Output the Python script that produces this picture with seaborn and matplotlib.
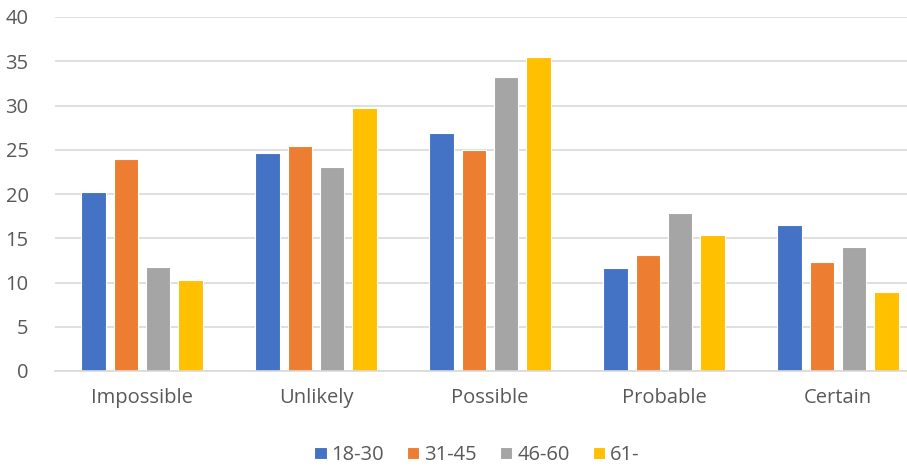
import pandas as pd
import matplotlib.pyplot as plt
import seaborn as sns

# data
categories = ["Impossible", "Unlikely", "Possible", "Probable", "Certain"]
age_groups = ["18-30", "31-45", "46-60", "61-"]
vals_18_30 = [20.2, 24.6, 26.9, 11.6, 16.5]
vals_31_45 = [23.9, 25.4, 25.0, 13.1, 12.3]
vals_46_60 = [11.8, 23.0, 33.2, 17.8, 14.0]
vals_61 = [10.3, 29.7, 35.5, 15.4, 8.9]

df = pd.DataFrame({
    "Category": categories * 4,
    "Age": [g for g in age_groups for _ in categories],
    "Value": vals_18_30 + vals_31_45 + vals_46_60 + vals_61,
})

sns.set_theme(style="white")
plt.rcParams['font.family'] = ['Open Sans', 'DejaVu Sans']

palette = ["#4472C4", "#ED7D31", "#A5A5A5", "#FFC000"]
text_color = "#595959"

fig = plt.figure(figsize=(9.07, 4.70), dpi=100)
# plot area runs off the right edge in the reference
ax = fig.add_axes([55 / 907, 1 - 371 / 470, 870 / 907, 354 / 470])

sns.barplot(data=df, x="Category", y="Value", hue="Age", order=categories,
            hue_order=age_groups, palette=palette, width=0.74, gap=0.23,
            edgecolor="white", linewidth=0.8, saturation=1, ax=ax)

ax.set_ylim(0, 40)
ax.set_yticks(range(0, 41, 5))
ax.grid(axis='y', color="#D9D9D9", linewidth=1.2)
ax.set_axisbelow(True)
for side in ["top", "right", "left"]:
    ax.spines[side].set_visible(False)
ax.spines["bottom"].set_color("#D9D9D9")
ax.spines["bottom"].set_linewidth(1.2)

ax.set_xlabel("")
ax.set_ylabel("")
ax.tick_params(axis='y', length=0, pad=19, labelsize=14.5, labelcolor=text_color)
ax.tick_params(axis='x', length=0, pad=12, labelsize=14.5, labelcolor=text_color)

ax.legend(loc='center', bbox_to_anchor=(477 / 907, 1 - 455 / 470),
          bbox_transform=fig.transFigure, ncol=4, frameon=False,
          fontsize=14.5, labelcolor=text_color, handlelength=0.6,
          handleheight=0.6, handletextpad=0.25, columnspacing=1.15)

plt.savefig("out.png", dpi=100)
